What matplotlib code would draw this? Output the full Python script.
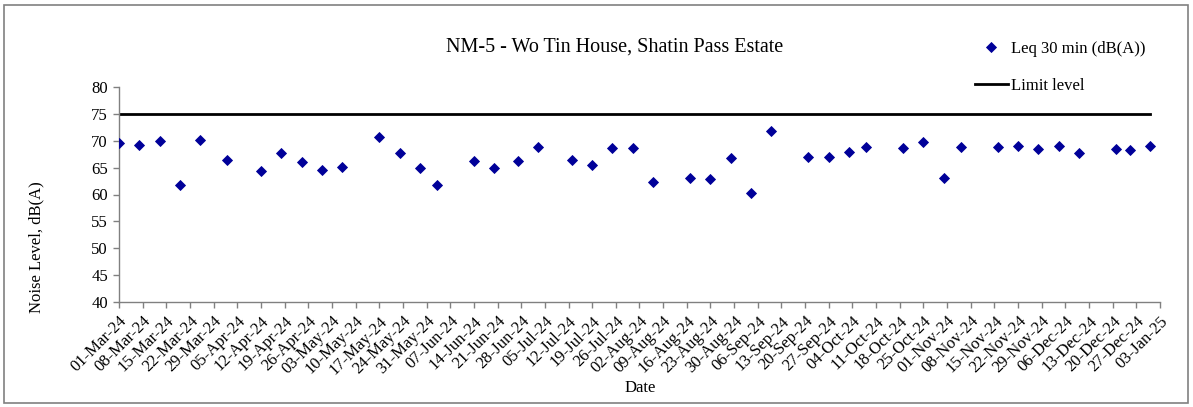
import numpy as np
import pandas as pd
import matplotlib as mpl
mpl.use('Agg')
import matplotlib.pyplot as plt
import matplotlib.dates as mdates
from matplotlib.patches import Rectangle

# measurement dates and Leq 30 min levels (dB(A))
dates = ['2024-03-01', '2024-03-07', '2024-03-13', '2024-03-19', '2024-03-25',
         '2024-04-02', '2024-04-12', '2024-04-18', '2024-04-24', '2024-04-30',
         '2024-05-06', '2024-05-17', '2024-05-23', '2024-05-29', '2024-06-03',
         '2024-06-14', '2024-06-20', '2024-06-27', '2024-07-03', '2024-07-13',
         '2024-07-19', '2024-07-25', '2024-07-31', '2024-08-06', '2024-08-17',
         '2024-08-23', '2024-08-29', '2024-09-04', '2024-09-10', '2024-09-21',
         '2024-09-27', '2024-10-03', '2024-10-08', '2024-10-19', '2024-10-25',
         '2024-10-31', '2024-11-05', '2024-11-16', '2024-11-22', '2024-11-28',
         '2024-12-04', '2024-12-10', '2024-12-21', '2024-12-25', '2024-12-31']
leq = [69.6, 69.3, 69.9, 61.8, 70.2, 66.4, 64.4, 67.8, 66.0, 64.6,
       65.1, 70.7, 67.7, 64.9, 61.7, 66.2, 64.9, 66.2, 68.8, 66.5,
       65.4, 68.7, 68.6, 62.3, 63.1, 62.8, 66.7, 60.3, 71.8, 67.0,
       67.0, 68.0, 68.8, 68.7, 69.8, 63.1, 68.9, 68.8, 69.1, 68.5,
       69.0, 67.8, 68.5, 68.2, 69.1]
limit = 75.0

title = 'NM-5 - Wo Tin House, Shatin Pass Estate'
tick_start = '2024-03-01'
tick_end = '2025-01-03'

plt.rc('font', family='Liberation Serif')
ftsize = 12

dt = pd.to_datetime(dates)
ticks = pd.date_range(tick_start, tick_end, freq='7D')

fig = plt.figure(figsize=(11.93, 4.07), dpi=100)
ax = fig.add_axes([119 / 1193, 1 - 302 / 407, (1160 - 119) / 1193, 215 / 407])

ax.plot(dt, [limit] * len(dt), '-', color='black', linewidth=2.0,
        label='Limit level', zorder=2)
ax.plot(dt, leq, 'D', color='#000099', markersize=5.4, markeredgewidth=0.6,
        linestyle='none', label='Leq 30 min (dB(A))', zorder=3)

ax.set_xlim(ticks[0], ticks[-1])
ax.set_ylim(40, 80)
ax.set_yticks(np.arange(40, 81, 5))
ax.set_xticks(ticks)
ax.xaxis.set_major_formatter(mdates.DateFormatter('%d-%b-%y'))
plt.setp(ax.get_xticklabels(), rotation=45, ha='right',
         rotation_mode='anchor', fontsize=ftsize)
plt.setp(ax.get_yticklabels(), fontsize=ftsize)
ax.tick_params(direction='out', length=4, color='#808080', width=1, pad=4)

for s in ['top', 'right']:
    ax.spines[s].set_visible(False)
for s in ['left', 'bottom']:
    ax.spines[s].set_color('#808080')
    ax.spines[s].set_linewidth(1.0)

fig.text(36 / 1193, 1 - 247 / 407, 'Noise Level, dB(A)', fontsize=ftsize,
         rotation=90, ha='center', va='center')
fig.text(640 / 1193, 1 - 388 / 407, 'Date', fontsize=ftsize,
         ha='center', va='center')
fig.text(615 / 1193, 1 - 47 / 407, title, fontsize=14.5,
         ha='center', va='center')

h, l = ax.get_legend_handles_labels()
fig.legend(h[::-1], l[::-1], loc='upper left',
           bbox_to_anchor=(968 / 1193, 1 - 34 / 407),
           frameon=False, fontsize=ftsize, handlelength=2.0,
           handletextpad=0.2, labelspacing=1.3, borderaxespad=0)

# outer chart border
fig.patches.append(Rectangle((4 / 1193, 4 / 407), 1184 / 1193, 398 / 407,
                             transform=fig.transFigure, fill=False,
                             edgecolor='#808080', linewidth=1.2))

plt.savefig('out.png', dpi=100)
